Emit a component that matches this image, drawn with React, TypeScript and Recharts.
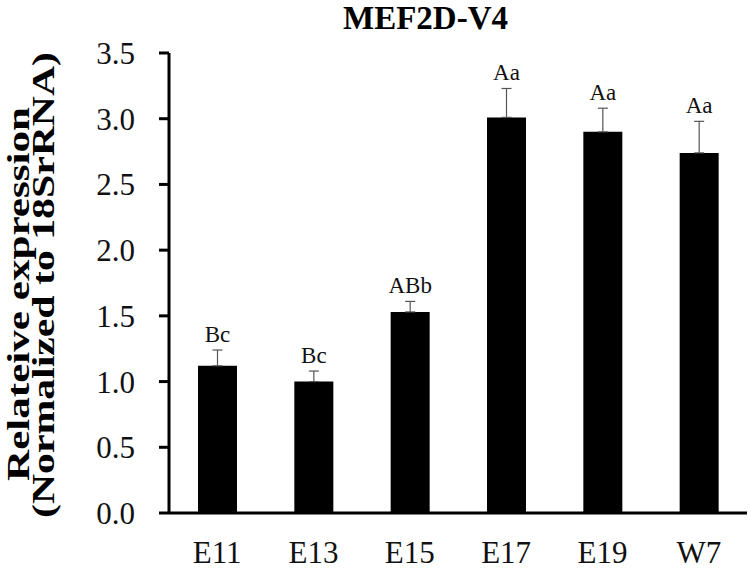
import React from "react";
import { Bar, BarChart, ErrorBar, LabelList, XAxis, YAxis } from "recharts";

const categories = ["E11", "E13", "E15", "E17", "E19", "W7"];
const expression = [1.12, 1.0, 1.53, 3.01, 2.9, 2.74];
const sem = [0.12, 0.08, 0.08, 0.22, 0.18, 0.24];
const letters = ["Bc", "Bc", "ABb", "Aa", "Aa", "Aa"];
const yTicks = [0, 0.5, 1, 1.5, 2, 2.5, 3, 3.5];

const data = categories.map((name, i) => ({
  name,
  value: expression[i],
  err: [0, sem[i]],
}));

const serif = "'Times New Roman', 'Liberation Serif', Times, serif";

function LetterLabel(props: any) {
  const { x, y, width, height, index } = props;
  // px per unit from the bar itself, so the letter sits above the error cap
  const perUnit = height / expression[index];
  const top = y - sem[index] * perUnit - 8;
  return (
    <text x={x + width / 2} y={top} textAnchor="middle" style={{ fontFamily: serif }} fontSize={23} fill="#111">
      {letters[index]}
    </text>
  );
}

function YLabel() {
  return (
    <g style={{ fontFamily: serif }} fontWeight="bold" fontSize={32} fill="#000">
      <text x={28.5} y={294} transform="rotate(-90, 28.5, 294)" textAnchor="middle" textLength={374} lengthAdjust="spacingAndGlyphs">
        Relateive expression
      </text>
      <text x={54} y={285} transform="rotate(-90, 54, 285)" textAnchor="middle" textLength={466} lengthAdjust="spacingAndGlyphs">
        (Normalized to 18SrRNA)
      </text>
    </g>
  );
}

export default function App() {
  return (
    <div style={{ position: "absolute", left: 0, top: 0, width: 750, height: 579, background: "#fff" }}>
      <div
        style={{
          position: "absolute",
          left: 0,
          top: 0,
          width: 851,
          textAlign: "center",
          fontFamily: serif,
          fontWeight: "bold",
          fontSize: 33,
          lineHeight: "36px",
          color: "#000",
        }}
      >
        MEF2D-V4
      </div>
      <BarChart width={750} height={579} data={data} margin={{ top: 53, right: 3, bottom: 36, left: 0 }}>
        <XAxis
          dataKey="name"
          height={30}
          tickLine={false}
          tickMargin={22}
          axisLine={{ stroke: "#000", strokeWidth: 3 }}
          tick={{ fill: "#111", fontSize: 31, style: { fontFamily: serif } }}
        />
        <YAxis
          width={169}
          domain={[0, 3.5]}
          ticks={yTicks}
          interval={0}
          tickFormatter={(v: number) => v.toFixed(1)}
          tickSize={10}
          tickMargin={24}
          axisLine={{ stroke: "#000", strokeWidth: 3 }}
          tickLine={{ stroke: "#000", strokeWidth: 3 }}
          tick={{ fill: "#111", fontSize: 31, style: { fontFamily: serif } }}
          label={<YLabel />}
        />
        <Bar dataKey="value" fill="#000" barSize={39} isAnimationActive={false}>
          <ErrorBar dataKey="err" width={5} stroke="#555" strokeWidth={1.2} />
          <LabelList dataKey="value" content={<LetterLabel />} />
        </Bar>
      </BarChart>
    </div>
  );
}
